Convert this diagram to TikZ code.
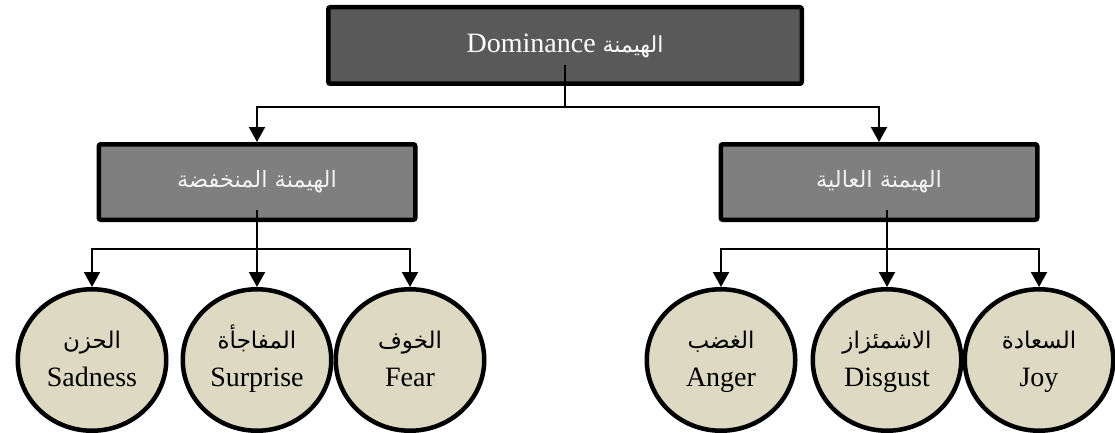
\documentclass[tikz,border=0pt]{standalone}
\usepackage{fontspec}
\setmainfont{Liberation Serif}
\newfontfamily\arabicfont[Script=Arabic]{DejaVu Sans}
\TeXXeTstate=1
\usetikzlibrary{arrows.meta,shapes.geometric,calc}
\definecolor{topgray}{HTML}{595959}
\definecolor{midgray}{HTML}{7F7F7F}
\definecolor{beige}{HTML}{DDD9C3}
\definecolor{lighttext}{HTML}{F2F2F2}
\newcommand{\arline}[1]{{\arabicfont\fontsize{23}{38}\selectfont\beginR #1\endR\strut}}
\begin{document}
\begin{tikzpicture}[x=1pt,y=-1pt,
  topbox/.style={draw=black,line width=4.5pt,fill=topgray,rounded corners=2pt,
    minimum width=473.5pt,minimum height=76.5pt,inner sep=0pt,text=white,
    font=\fontsize{28}{34}\selectfont},
  midbox/.style={draw=black,line width=4.5pt,fill=midgray,rounded corners=2pt,
    minimum width=316.5pt,minimum height=75.5pt,inner sep=0pt,text=lighttext,
    font=\arabicfont\fontsize{22.5}{26}\selectfont},
  emobox/.style={ellipse,draw=black,line width=4.5pt,fill=beige,
    minimum width=148.5pt,minimum height=141.5pt,inner sep=0pt,align=center,
    font=\fontsize{28}{38}\selectfont},
  conn/.style={draw=black,line width=2pt},
  arr/.style={conn,-{Triangle[width=16pt,length=15pt]}}
]
\useasboundingbox (0,0) rectangle (1115,433);

\node[topbox] (dom) at (565,45.5) {\raisebox{-2pt}{Dominance {\arabicfont\fontsize{22}{26}\selectfont\beginR الهيمنة\endR}}};
\node[midbox] (low) at (257,182) {\beginR الهيمنة المنخفضة\endR};
\node[midbox] (high) at (879,182) {\beginR الهيمنة العالية\endR};

\node[emobox] (sad)  at (92,360)   {\arline{الحزن}\\ Sadness\strut};
\node[emobox] (sur)  at (257,360)  {\arline{المفاجأة}\\ Surprise\strut};
\node[emobox] (fear) at (410,360)  {\arline{الخوف}\\ Fear\strut};
\node[emobox] (ang)  at (721,360)  {\arline{الغضب}\\ Anger\strut};
\node[emobox] (dis)  at (887,360)  {\arline{الاشمئزاز}\\ Disgust\strut};
\node[emobox] (joy)  at (1039,360) {\arline{السعادة}\\ Joy\strut};

\coordinate (domout) at ($(dom.south)+(0,-21)$);
\draw[arr] (domout) -- ++(0,42) -| (low.north);
\draw[arr] (domout) -- ++(0,42) -| (high.north);

\coordinate (lowout) at ($(low.south)+(0,-12)$);
\draw[arr] (lowout) -- ++(0,39) -| (sad.north);
\draw[arr] (lowout) -- ++(0,39) -| (sur.north);
\draw[arr] (lowout) -- ++(0,39) -| (fear.north);

\coordinate (highout) at ($(high.south)+(8,-12)$);
\draw[arr] (highout) -- ++(0,39) -| (ang.north);
\draw[arr] (highout) -- ++(0,39) -| (dis.north);
\draw[arr] (highout) -- ++(0,39) -| (joy.north);
\end{tikzpicture}
\end{document}
